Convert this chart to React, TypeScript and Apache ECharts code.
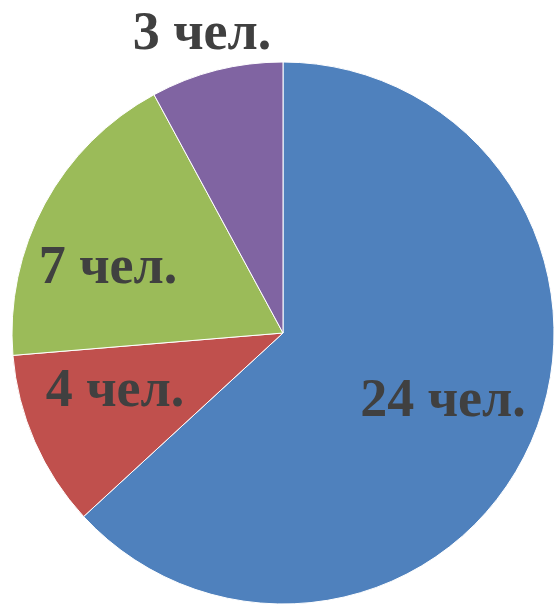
import React, { useEffect, useRef } from "react";
import * as echarts from "echarts";

const categories = ["A", "B", "C", "D"];
const values = [24, 4, 7, 3];
const labels = ["24 чел.", "4 чел.", "7 чел.", "3 чел."];
const colors = ["#4F81BD", "#C0504D", "#9BBB59", "#8064A2"];
const labelPos: [number, number][] = [
  [443, 398],
  [115, 388],
  [108, 265],
  [202, 31],
];

export default function App() {
  const ref = useRef<HTMLDivElement>(null);
  useEffect(() => {
    const chart = echarts.init(ref.current!, null, { renderer: "svg" });
    chart.setOption({
      animation: false,
      backgroundColor: "#ffffff",
      series: [
        {
          type: "pie",
          center: [283, 333],
          radius: [0, 271],
          startAngle: 90,
          clockwise: true,
          data: categories.map((c, i) => ({
            name: c,
            value: values[i],
            itemStyle: { color: colors[i] },
          })),
          itemStyle: { borderColor: "#ffffff", borderWidth: 1 },
          label: {
            show: true,
            position: "inside",
            formatter: (p: any) => labels[p.dataIndex],
            fontFamily: "Liberation Serif",
            fontWeight: "bold",
            fontSize: 54,
            color: "#404040",
          },
          labelLine: { show: false },
          labelLayout: (p: any) => ({
            x: labelPos[p.dataIndex][0],
            y: labelPos[p.dataIndex][1],
            align: "center",
            verticalAlign: "middle",
          }),
          emphasis: { disabled: true },
        },
      ],
    });
    return () => chart.dispose();
  }, []);
  return (
    <div
      ref={ref}
      style={{ position: "fixed", left: 0, top: 0, width: 558, height: 606 }}
    />
  );
}
